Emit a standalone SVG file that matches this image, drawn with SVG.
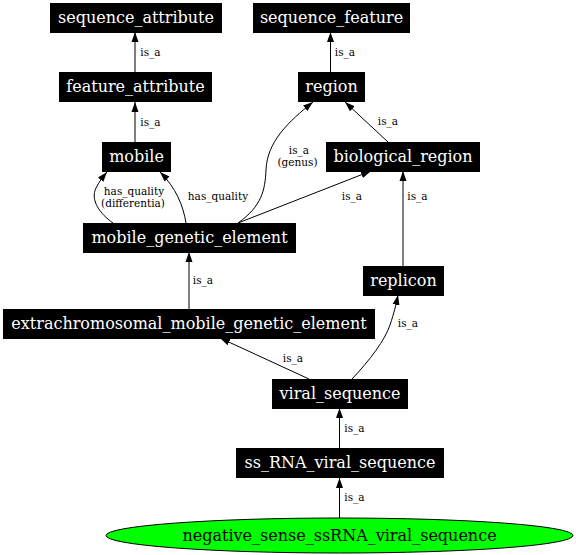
<svg xmlns="http://www.w3.org/2000/svg" width="576" height="555" viewBox="0 0 576 555">
<style>
.n rect{fill:#000;stroke:#000}
.n text{fill:#fff;font-family:"DejaVu Serif",serif;font-size:16px;text-anchor:middle}
.e path{fill:none;stroke:#000;stroke-width:1;marker-end:url(#ah)}
.e text{fill:#000;font-family:"DejaVu Serif",serif;font-size:10.5px;text-anchor:middle}
</style>
<defs>
<marker id="ah" markerUnits="userSpaceOnUse" markerWidth="10" markerHeight="8" refX="10" refY="4" orient="auto">
<path d="M0,0.5 L10,4 L0,7.5 z" fill="#000"/>
</marker>
</defs>
<rect width="576" height="555" fill="#fff"/>
<g class="e" id="connectors">
<path d="M135,72 L135,32"/><text x="150.5" y="56">is_a</text>
<path d="M135,142 L135,102"/><text x="150.5" y="126">is_a</text>
<path d="M330.5,72 L330.5,32"/><text x="345" y="56">is_a</text>
<path d="M388,142 L345,102"/><text x="388" y="125">is_a</text>
<path d="M238,223 C262,206 265,190 266,170 C267,142 288,122 313,102"/><text x="299" y="154">is_a</text><text x="297.5" y="165.5">(genus)</text>
<path d="M238,223 L371,171"/><text x="352" y="200">is_a</text>
<path d="M113,223 C100,214 90,200 96,188 C99,182 102,178 107,172"/><text x="134" y="195">has_quality</text><text x="133" y="206.5">(differentia)</text>
<path d="M186,223 C183,205 176,188 160,172"/><text x="218" y="200">has_quality</text>
<path d="M189,309 L189,252"/><text x="203" y="284">is_a</text>
<path d="M403,266 L403,171"/><text x="417.5" y="200">is_a</text>
<path d="M309,379 L220,338"/><text x="293" y="362">is_a</text>
<path d="M352,379 C370,360 385,340 390,325 C394,313 396,305 398,295"/><text x="408" y="327">is_a</text>
<path d="M339.5,448 L339.5,408"/><text x="354.5" y="432">is_a</text>
<path d="M339.5,518 L339.5,478"/><text x="354.5" y="501">is_a</text>
</g>
<g class="n" id="sequence_attribute"><rect x="50.5" y="3.5" width="171" height="29"/><text x="136" y="22.5">sequence_attribute</text></g>
<g class="n" id="sequence_feature"><rect x="253.5" y="3.5" width="156" height="29"/><text x="331.5" y="22.5">sequence_feature</text></g>
<g class="n" id="feature_attribute"><rect x="59.5" y="72.5" width="152" height="29"/><text x="135.5" y="91.5">feature_attribute</text></g>
<g class="n" id="region"><rect x="298.5" y="72.5" width="66" height="29"/><text x="331.5" y="91.5">region</text></g>
<g class="n" id="mobile"><rect x="102.5" y="142.5" width="68" height="29"/><text x="136.5" y="161.5">mobile</text></g>
<g class="n" id="biological_region"><rect x="326.5" y="142.5" width="153" height="29"/><text x="403" y="161.5">biological_region</text></g>
<g class="n" id="mobile_genetic_element"><rect x="83.5" y="223.5" width="212" height="29"/><text x="189.5" y="242.5">mobile_genetic_element</text></g>
<g class="n" id="replicon"><rect x="363.5" y="266.5" width="80" height="29"/><text x="403.5" y="285.5">replicon</text></g>
<g class="n" id="extrachromosomal_mobile_genetic_element"><rect x="3.5" y="309.5" width="371" height="29"/><text x="189" y="328.5">extrachromosomal_mobile_genetic_element</text></g>
<g class="n" id="viral_sequence"><rect x="272.5" y="379.5" width="135" height="29"/><text x="340" y="398.5">viral_sequence</text></g>
<g class="n" id="ss_RNA_viral_sequence"><rect x="236.5" y="448.5" width="207" height="29"/><text x="340" y="467.5">ss_RNA_viral_sequence</text></g>
<g id="negative_sense_ssRNA_viral_sequence"><ellipse cx="339.5" cy="535.5" rx="233.5" ry="17.5" fill="#00ff00" stroke="#000"/><text x="339.5" y="540.5" fill="#000" font-family="DejaVu Serif, serif" font-size="16" text-anchor="middle">negative_sense_ssRNA_viral_sequence</text></g>
</svg>
